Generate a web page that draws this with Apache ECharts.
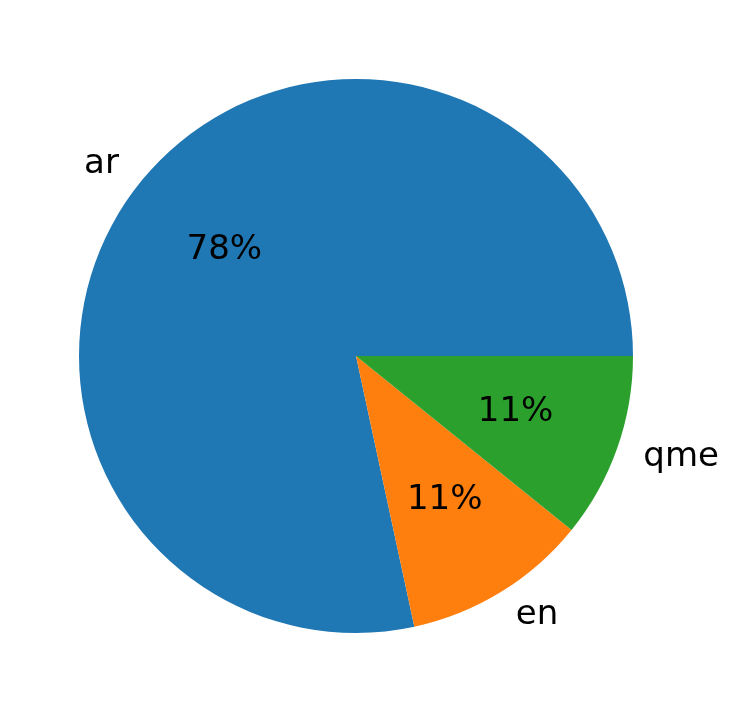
<!DOCTYPE html>
<html>
<head>
<meta charset="utf-8">
<script src="https://cdn.jsdelivr.net/npm/echarts@6/dist/echarts.min.js"></script>
<style>html,body{margin:0;padding:0;background:#fff;}#chart{width:731px;height:713px;}</style>
</head>
<body>
<div id="chart"></div>
<script>
const categories = ['ar', 'en', 'qme'];
const values = [29, 4, 4];
const colors = ['#1f77b4', '#ff7f0e', '#2ca02c'];

const R = 277;
const center = [356, 356];
const font = 'DejaVu Sans';

const mainData = categories.map((c, i) => ({ name: c, value: values[i], itemStyle: { color: colors[i] } }));
const pctData = categories.map((c, i) => ({ name: c, value: values[i] }));

const chart = echarts.init(document.getElementById('chart'));
chart.setOption({
  animation: false,
  backgroundColor: '#ffffff',
  series: [
    {
      type: 'pie',
      center: center,
      radius: [0, R],
      startAngle: 0,
      clockwise: false,
      avoidLabelOverlap: false,
      silent: true,
      data: mainData,
      label: {
        show: true,
        position: 'outside',
        formatter: '{b}',
        color: '#000',
        fontSize: 34,
        fontFamily: font,
        distanceToLabelLine: 0
      },
      labelLine: { show: false, length: R * 0.1, length2: 0 }
    },
    {
      type: 'pie',
      center: center,
      radius: [0, R * 1.2],
      startAngle: 0,
      clockwise: false,
      avoidLabelOverlap: false,
      silent: true,
      data: pctData,
      itemStyle: { color: 'rgba(0,0,0,0)' },
      label: {
        show: true,
        position: 'inside',
        formatter: p => Math.round(p.percent) + '%',
        color: '#000',
        fontSize: 34,
        fontFamily: font
      },
      labelLine: { show: false }
    }
  ]
});
</script>
</body>
</html>
